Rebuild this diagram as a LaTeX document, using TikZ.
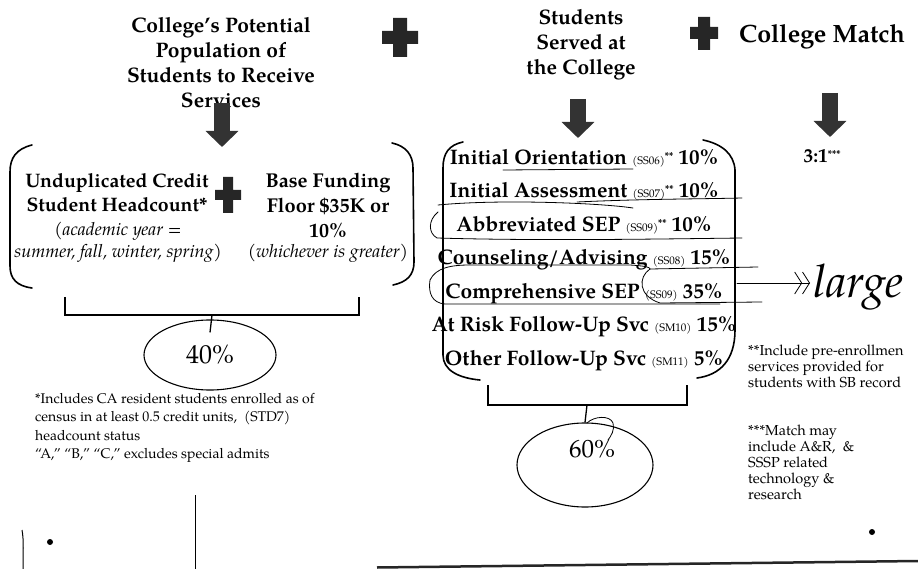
\documentclass[tikz,border=0pt]{standalone}
\usepackage{fontspec}
\setmainfont{texgyrepagella}[Extension=.otf, UprightFont=*-regular, BoldFont=*-bold, ItalicFont=*-italic, BoldItalicFont=*-bolditalic]
\usetikzlibrary{arrows.meta,positioning,shapes.geometric}
\newcommand{\svccode}[1]{{\fontsize{11}{11}\selectfont\mdseries(#1)}}
\newcommand{\stars}[1]{\raisebox{5pt}{\fontsize{10}{10}\selectfont #1}}

\begin{document}
\begin{tikzpicture}[
  x=1pt, y=-1pt,
  head/.style={align=center, font=\fontsize{21}{25}\selectfont\bfseries},
  term/.style={align=center, font=\fontsize{19.5}{24}\selectfont\bfseries},
  hint/.style={align=center, font=\fontsize{18}{22}\selectfont\itshape},
  svc/.style={align=center, font=\fontsize{21}{33.5}\selectfont\bfseries},
  note/.style={align=left, anchor=north west, inner sep=0pt, font=\fontsize{14}{18.5}\selectfont},
  pct/.style={draw, ellipse, line width=1.1pt, inner sep=0pt, font=\fontsize{26}{26}\selectfont},
  bigarrow/.style={draw=black!80, line width=16pt, -{Triangle[length=16pt,width=32pt]}},
  plus/.style={fill=black!85},
  bracket/.style={line width=1.6pt, line cap=round},
  brace/.style={line width=1.3pt},
  pen/.style={line width=0.8pt, line cap=round, line join=round}
]
\useasboundingbox (0,0) rectangle (918,569);

% headings
\node[head] (pop) at (221,63) {College's Potential\\Population of\\Students to Receive\\Services};
\node[head] (served) at (581,45) {Students\\Served at\\the College};
\node[head, font=\fontsize{25}{25}\selectfont\bfseries] (match) at (822,37) {College Match};
\fill[plus] (393,18) rectangle (407,57) (382,31) rectangle (418,44);
\fill[plus] (698,17) rectangle (710,50) (690,27) rectangle (718,39);

% block arrows
\coordinate (tip1) at (222,147);
\coordinate (tip2) at (578,138);
\coordinate (tip3) at (830,137);
\draw[bigarrow, shorten <=-9pt] (tip1 |- pop.south) -- (tip1);
\draw[bigarrow, shorten <=15pt] (tip2 |- served.south) -- (tip2);
\draw[bigarrow, shorten <=40pt] (tip3 |- match.south) -- (tip3);
\node[term] (ratio) at (822,156) {3:1\stars{***}};

% left group
\draw[bracket] (32,145) .. controls (16,149) and (10,158) .. (10,172) -- (10,266) .. controls (10,279) and (17,286) .. (32,288);
\draw[bracket] (392,143) .. controls (406,146) and (413,155) .. (413,168) -- (414,262) .. controls (414,275) and (407,282) .. (393,285);
\node[term] (undup) at (117,193) {Unduplicated Credit\\Student Headcount*};
\node[hint] (year) at (118,242) {(academic year =\\summer, fall, winter, spring)};
\node[term, font=\fontsize{20}{25}\selectfont\bfseries] (floor) at (328,205) {Base Funding\\Floor \$35K or\\10\%};
\node[hint] (greater) at (328,253) {(whichever is greater)};
\fill[plus] (223,177) rectangle (233,213) (215,190) rectangle (241,200);

\coordinate (lb40) at (65,297);
\coordinate (rb40) at (359,297);
\node[pct, minimum width=132pt, minimum height=70pt] (p40) at (210,355) {40\%};
\draw[brace] (lb40) -- ++(0,18) -| (rb40);
\draw[brace] (212,315) -- ([yshift=-13pt]p40.north);

\node[note] (fn1) at (35,393) {*Includes CA resident students enrolled as of\\census in at least 0.5 credit units,~~(STD7)\\headcount status\\“A,” “B,” “C,” excludes special admits};

% services list
\draw[bracket] (463,142) .. controls (449,145) and (443,153) .. (443,168) -- (443,355) .. controls (443,370) and (458,378) .. (480,380);
\draw[bracket] (703,140) .. controls (722,144) and (734,154) .. (735,170) -- (735,330) .. controls (735,360) and (720,375) .. (697,378);
\node[svc] (svcs) at (584,260) {Initial Orientation \svccode{SS06}\stars{**} 10\%\\
  Initial Assessment \svccode{SS07}\stars{**} 10\%\\
  Abbreviated SEP \svccode{SS09}\stars{**} 10\%\\
  Counseling/Advising \svccode{SS08} 15\%\\
  Comprehensive SEP \svccode{SS09} 35\%\\
  At Risk Follow-Up Svc \svccode{SM10} 15\%\\
  Other Follow-Up Svc \svccode{SM11} 5\%};

\coordinate (lb60) at (488,385);
\coordinate (rb60) at (687,385);
\node[pct, minimum width=136pt, minimum height=84pt] (p60) at (585,465) {};
\node[font=\fontsize{25}{25}\selectfont] (v60) at (592,449) {60\%};
\draw[brace] (lb60) -- ++(0,20) -| (rb60);
\draw[brace] (587,405) -- (p60.north);

% pen marks
\draw[pen] (503,170) -- (633,169);
\draw[pen] (633,208) .. controls (600,203) and (500,199) .. (438,205);
\draw[pen] (577,202) .. controls (640,199) and (700,199) .. (742,198);
\draw[pen] (438,212) .. controls (428,220) and (428,233) .. (437,238) .. controls (540,241) and (660,239) .. (742,238);
\draw[pen] (430,280) .. controls (436,268) and (450,265) .. (470,265) -- (630,265) .. controls (645,266) and (650,267) .. (650,269);
\draw[pen] (650,269) .. controls (638,277) and (638,296) .. (660,303) -- (762,302);
\draw[pen] (650,269) -- (758,267);
\draw[pen] (430,280) .. controls (428,293) and (432,303) .. (445,304) -- (720,304);
\draw[pen] (587,423) .. controls (594,416) and (610,415) .. (613,423) .. controls (615,430) and (611,436) .. (608,440);

\coordinate (sepout) at (737,283);
\node[anchor=west, font=\fontsize{46}{46}\selectfont\itshape] (large) at (810,287) {large};
\draw[pen, -{Straight Barb[length=7pt,width=22pt] Straight Barb[length=7pt,width=22pt]}] (sepout) -- (large.west |- sepout);

\node[note, font=\fontsize{14.5}{16}\selectfont] (fn2) at (748,345) {**Include pre-enrollmen\\services provided for\\students with SB record};
\node[note, font=\fontsize{14.5}{16}\selectfont] (fn3) at (748,425) {***Match may\\include A\&R,~~\&\\SSSP related\\technology \&\\research};

% scan marks
\draw[line width=1pt] (22,530) .. controls (24,540) and (23,555) .. (23,569);
\fill (50,542) circle (3);
\draw[line width=0.8pt] (195,495) -- (195,569);
\fill (872,532) circle (3);
\draw[line width=2.5pt, black!85] (377,567.5) -- (918,561);
\end{tikzpicture}
\end{document}
